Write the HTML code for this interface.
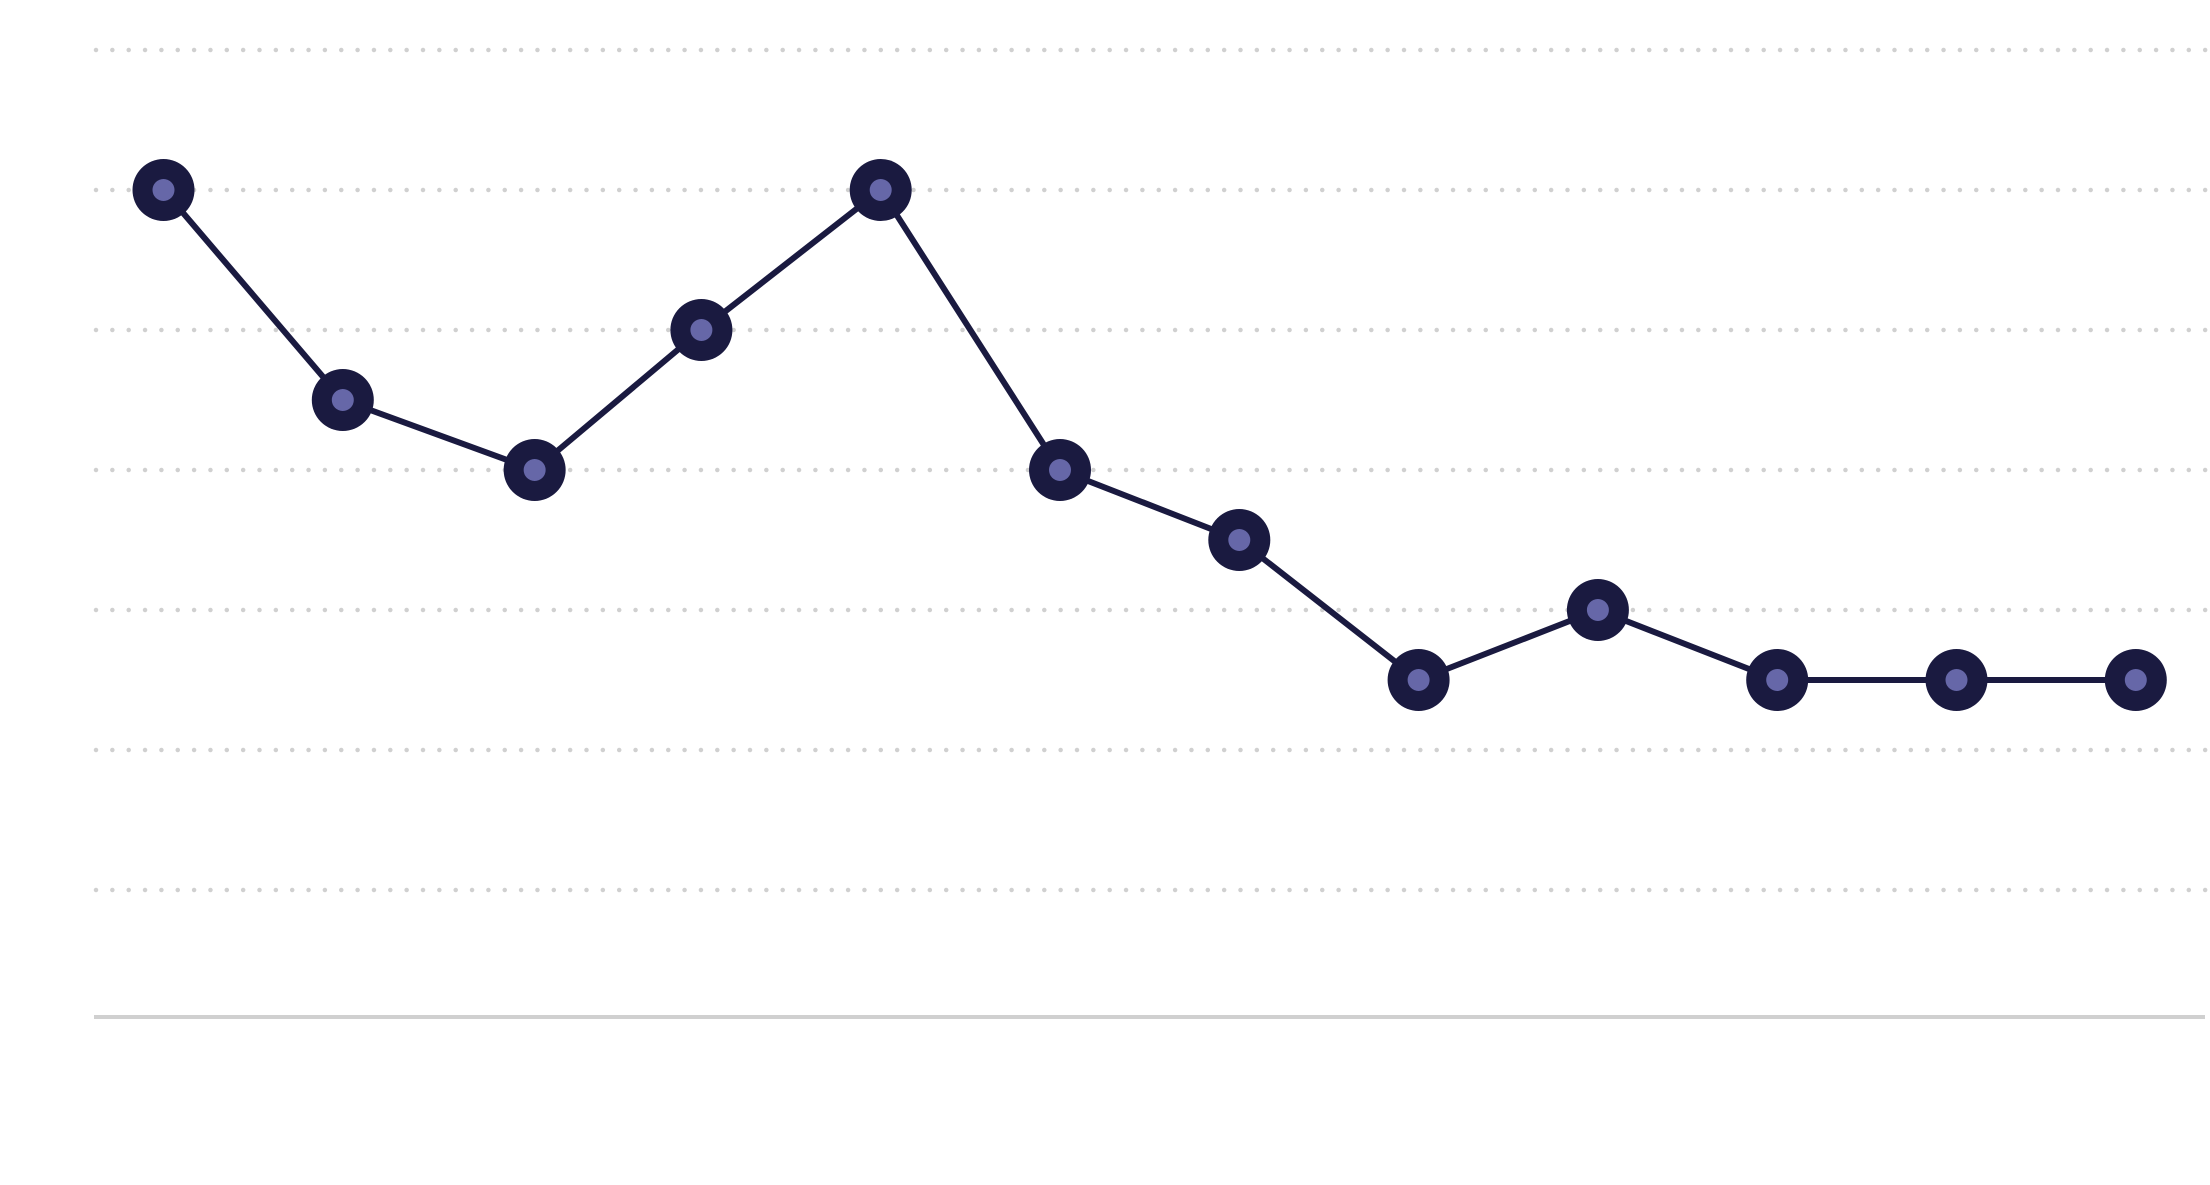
<!DOCTYPE html>
<html><head><meta charset="utf-8"><style>
html,body{margin:0;padding:0;background:#fff;}
svg{display:block;font-family:"Liberation Sans",sans-serif;}
</style></head>
<body>
<svg id="chart" width="2210" height="1185" viewBox="0 0 2210 1185">
<g id="grid"></g>
<line x1="94" y1="1017" x2="2205" y2="1017" stroke="#d0d0d0" stroke-width="4"/>
<g id="series"></g>
</svg>
<script>
const categories = ["p1","p2","p3","p4","p5","p6","p7","p8","p9","p10","p11","p12"];
const xPositions = [0,1,2.07,3,4,5,6,7,8,9,10,11];
const values = [10,7,6,8,10,6,5,3,4,3,3,3];
const gridTicks = [0,2,4,6,8,10,12];

const NS="http://www.w3.org/2000/svg";
function xScale(i){return 163.5 + i*179.3;}
function yScale(v){return 890 - v*70;}

const grid=document.getElementById('grid');
gridTicks.forEach(t=>{
  const l=document.createElementNS(NS,'line');
  l.setAttribute('x1',96);l.setAttribute('x2',2208);
  l.setAttribute('y1',yScale(t));l.setAttribute('y2',yScale(t));
  l.setAttribute('stroke','#d0d0d0');l.setAttribute('stroke-width',4.5);
  l.setAttribute('stroke-linecap','round');l.setAttribute('stroke-dasharray','0 16.35');
  
  
  grid.appendChild(l);
});

const s=document.getElementById('series');
const pts=values.map((v,i)=>[xScale(xPositions[i]),yScale(v)]);
const path=document.createElementNS(NS,'polyline');
path.setAttribute('points',pts.map(p=>p.join(',')).join(' '));
path.setAttribute('fill','none');path.setAttribute('stroke','#1a1a40');path.setAttribute('stroke-width',6);


s.appendChild(path);
pts.forEach((p,i)=>{
  const g=document.createElementNS(NS,'g');
  
  
  const c1=document.createElementNS(NS,'circle');
  c1.setAttribute('cx',p[0]);c1.setAttribute('cy',p[1]);c1.setAttribute('r',31);c1.setAttribute('fill','#1a1a40');
  
  
  const c2=document.createElementNS(NS,'circle');
  c2.setAttribute('cx',p[0]);c2.setAttribute('cy',p[1]);c2.setAttribute('r',11);c2.setAttribute('fill','#6667a8');
  
  
  g.appendChild(c1);g.appendChild(c2);s.appendChild(g);
});
</script>
</body></html>
